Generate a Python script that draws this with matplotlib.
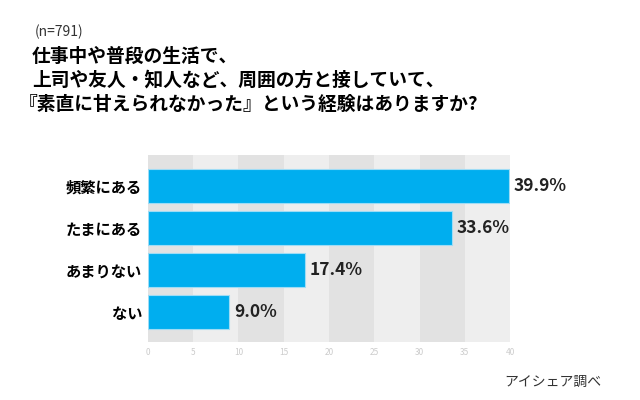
import matplotlib
matplotlib.use("Agg")
import matplotlib.pyplot as plt

categories = ["頻繁にある", "たまにある", "あまりない", "ない"]
values = [39.9, 33.6, 17.4, 9.0]
ticks = [0, 5, 10, 15, 20, 25, 30, 35, 40]

plt.rcParams["font.family"] = "Noto Sans CJK JP"
fig = plt.figure(figsize=(6.4, 4.0), dpi=100)
fig.patch.set_facecolor("white")
ax = fig.add_axes([0.231, 0.145, 0.566, 0.468])
for i in range(len(ticks) - 1):
    ax.axvspan(ticks[i], ticks[i + 1], color="#e2e2e2" if i % 2 == 0 else "#eeeeee", zorder=0, lw=0)
y = list(range(len(categories)))
ax.barh(y, values, height=0.8, color="#00aeef", edgecolor="#9fdcf5", linewidth=0.8, zorder=2)
for yi, v in zip(y, values):
    ax.text(v + 0.5, yi, f"{v:.1f}%", va="center", ha="left", fontsize=12.5, fontweight="bold", color="#222222")
ax.set_yticks(y)
ax.set_yticklabels(categories, fontsize=11, fontweight="bold")
ax.set_ylim(3.71, -0.74)
ax.set_xlim(0, 40)
ax.set_xticks(ticks)
ax.set_xticklabels([str(t) for t in ticks], fontsize=6, color="#cccccc")
ax.tick_params(length=0, pad=4)
for s in ax.spines.values():
    s.set_visible(False)

fig.text(0.055, 0.91, "(n=791)", fontsize=10, color="#333333")
fig.text(0.05, 0.845, "仕事中や普段の生活で、", fontsize=13.5, fontweight="bold")
fig.text(0.05, 0.785, "上司や友人・知人など、周囲の方と接していて、", fontsize=13.5, fontweight="bold")
fig.text(0.03, 0.725, "『素直に甘えられなかった』という経験はありますか?", fontsize=13.5, fontweight="bold")
fig.text(0.94, 0.035, "アイシェア調べ", fontsize=10, ha="right", color="#333333")
fig.savefig("out.png", dpi=100)
